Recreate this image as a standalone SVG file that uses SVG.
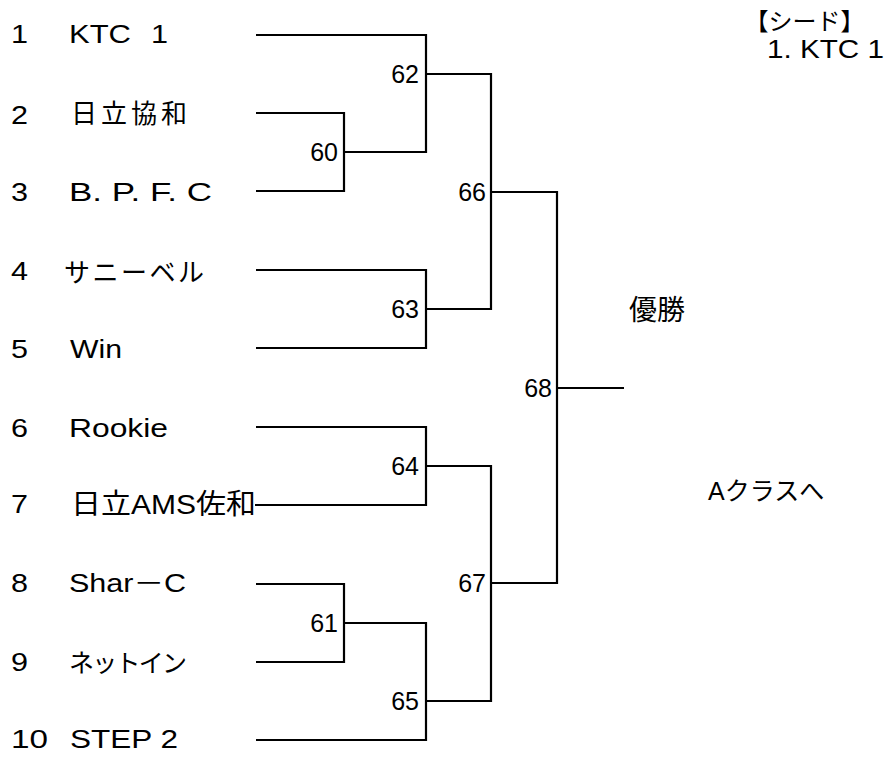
<svg xmlns="http://www.w3.org/2000/svg" width="892" height="757" viewBox="0 0 892 757">
<style>
text{font-family:"Liberation Sans","Noto Sans CJK JP",sans-serif;font-size:25px;fill:#000}
.j{font-family:"Noto Sans CJK JP","Liberation Sans",sans-serif}
.lbl{text-anchor:end}
.ln{fill:none;stroke:#000;stroke-width:2.2;stroke-linejoin:miter;stroke-linecap:butt}
</style>
<rect width="892" height="757" fill="#fff"/>
<g id="connectors" class="ln">
<path d="M256,35 H426 V152 H344"/>
<path d="M256,113 H344 V191 H256"/>
<path d="M426,74 H491 V309 H426"/>
<path d="M256,270 H426 V348 H256"/>
<path d="M491,192 H557 V583 H491"/>
<path d="M557,388 H624"/>
<path d="M256,427 H426 V505 H255"/>
<path d="M426,466 H491 V701 H426"/>
<path d="M256,584 H344 V662 H256"/>
<path d="M344,623 H426 V740 H256"/>
</g>
<g id="team1"><text x="11" y="43" textLength="17" lengthAdjust="spacingAndGlyphs">1</text><text x="69" y="43"><tspan textLength="62" lengthAdjust="spacingAndGlyphs">KTC</tspan> <tspan x="151" textLength="17" lengthAdjust="spacingAndGlyphs">1</tspan></text></g>
<g id="team2"><text x="11" y="124" textLength="17" lengthAdjust="spacingAndGlyphs">2</text><text class="j" x="71" y="123" style="font-size:26px" textLength="116" lengthAdjust="spacing">日立協和</text></g>
<g id="team3"><text x="11" y="201" textLength="17" lengthAdjust="spacingAndGlyphs">3</text><text x="69" y="201" textLength="143" lengthAdjust="spacingAndGlyphs">B. P. F. C</text></g>
<g id="team4"><text x="11" y="280" textLength="17" lengthAdjust="spacingAndGlyphs">4</text><text class="j" x="64" y="281.5" style="font-size:26px" textLength="140" lengthAdjust="spacing">サニーベル</text></g>
<g id="team5"><text x="11" y="358" textLength="17" lengthAdjust="spacingAndGlyphs">5</text><text x="70" y="358" textLength="52" lengthAdjust="spacingAndGlyphs">Win</text></g>
<g id="team6"><text x="11" y="437" textLength="17" lengthAdjust="spacingAndGlyphs">6</text><text x="69" y="437" textLength="99" lengthAdjust="spacingAndGlyphs">Rookie</text></g>
<g id="team7"><text x="11" y="513" textLength="17" lengthAdjust="spacingAndGlyphs">7</text><text x="71" y="514" style="font-size:28px" textLength="185" lengthAdjust="spacingAndGlyphs">日立AMS佐和</text></g>
<g id="team8"><text x="11" y="592" textLength="17" lengthAdjust="spacingAndGlyphs">8</text><text x="69" y="592" textLength="117" lengthAdjust="spacingAndGlyphs">Shar－C</text></g>
<g id="team9"><text x="11" y="671" textLength="17" lengthAdjust="spacingAndGlyphs">9</text><text class="j" x="69" y="672" style="font-size:25px" textLength="118" lengthAdjust="spacing">ネットイン</text></g>
<g id="team10"><text x="11" y="748" textLength="37" lengthAdjust="spacingAndGlyphs">10</text><text x="70" y="748" textLength="108" lengthAdjust="spacingAndGlyphs">STEP 2</text></g>
<g id="m60"><text class="lbl" x="338" y="161">60</text></g>
<g id="m61"><text class="lbl" x="338" y="632">61</text></g>
<g id="m62"><text class="lbl" x="419" y="83">62</text></g>
<g id="m63"><text class="lbl" x="419" y="318">63</text></g>
<g id="m64"><text class="lbl" x="419" y="475">64</text></g>
<g id="m65"><text class="lbl" x="419" y="710">65</text></g>
<g id="m66"><text class="lbl" x="486" y="201">66</text></g>
<g id="m67"><text class="lbl" x="486" y="592">67</text></g>
<g id="m68"><text class="lbl" x="552" y="397">68</text></g>
<g id="winner"><text class="j" x="629" y="319.5" style="font-size:28px">優勝</text></g>
<g id="promotion"><text x="708" y="500">Aクラスへ</text></g>
<g id="seed"><text class="j" x="744.5" y="30" style="font-size:24px">【シード】</text><text x="767" y="58" textLength="117" lengthAdjust="spacingAndGlyphs">1. KTC 1</text></g>
</svg>
